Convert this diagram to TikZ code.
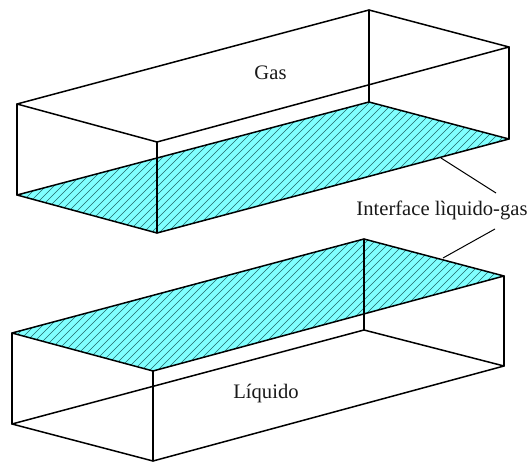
\documentclass[tikz,border=0pt]{standalone}
\usepackage{fontspec}
\setmainfont{Liberation Serif}
\definecolor{surf}{HTML}{80FFFF}
\definecolor{hatchc}{HTML}{206868}
\tikzset{
  edge/.style={draw=black,line width=1.5pt,line join=round,line cap=round},
  leader/.style={draw=black,line width=1pt},
  lbl/.style={inner sep=0pt,anchor=base,font=\fontsize{20.6}{22}\selectfont,text=black!90},
}
\newcommand{\hatchfill}[4]{%
  \begin{scope}
    \fill[surf] (#1)--(#2)--(#3)--(#4)--cycle;
    \clip (#1)--(#2)--(#3)--(#4)--cycle;
    \foreach \k in {0,8,...,770}{
      \draw[hatchc,line width=0.5pt] (\k,0) -- ++(-463,463);
    }
  \end{scope}}
\begin{document}
\begin{tikzpicture}[x=1pt,y=-1pt]
\useasboundingbox (0,0) rectangle (531,463);
\fill[white] (0,0) rectangle (531,463);
% upper box
\coordinate (ua) at (17,104);
\coordinate (ub) at (157,142);
\coordinate (uc) at (509,47);
\coordinate (ud) at (369,10);
\coordinate (ue) at (17,195);
\coordinate (uf) at (157,233);
\coordinate (ug) at (509,139);
\coordinate (uh) at (369,102);
\hatchfill{ue}{uf}{ug}{uh}
\draw[edge] (ua)--(ub)--(uc)--(ud)--cycle;
\draw[edge] (ue)--(uf)--(ug)--(uh)--cycle;
\draw[edge] (ua)--(ue) (ub)--(uf) (uc)--(ug) (ud)--(uh);
% lower box
\coordinate (la) at (12,333);
\coordinate (lb) at (153,371);
\coordinate (lc) at (504,276);
\coordinate (ld) at (364,239);
\coordinate (le) at (12,424);
\coordinate (lf) at (153,461);
\coordinate (lg) at (504,366);
\coordinate (lh) at (364,330);
\hatchfill{la}{lb}{lc}{ld}
\draw[edge] (la)--(lb)--(lc)--(ld)--cycle;
\draw[edge] (le)--(lf)--(lg)--(lh)--cycle;
\draw[edge] (la)--(le) (lb)--(lf) (lc)--(lg) (ld)--(lh);
% labels
\node[lbl] (gas) at (270.5,79) {Gas};
\node[lbl] (liq) at (266,398) {Líquido};
\node[lbl] (iface) at (442,215) {Interface lìquido-gas};
% leaders
\coordinate (p1) at (441,158);
\coordinate (p2) at (443,258);
\coordinate (q1) at (496,193);
\coordinate (q2) at (495,229);
\draw[leader] (p1)--(q1);
\draw[leader] (p2)--(q2);
\end{tikzpicture}
\end{document}
